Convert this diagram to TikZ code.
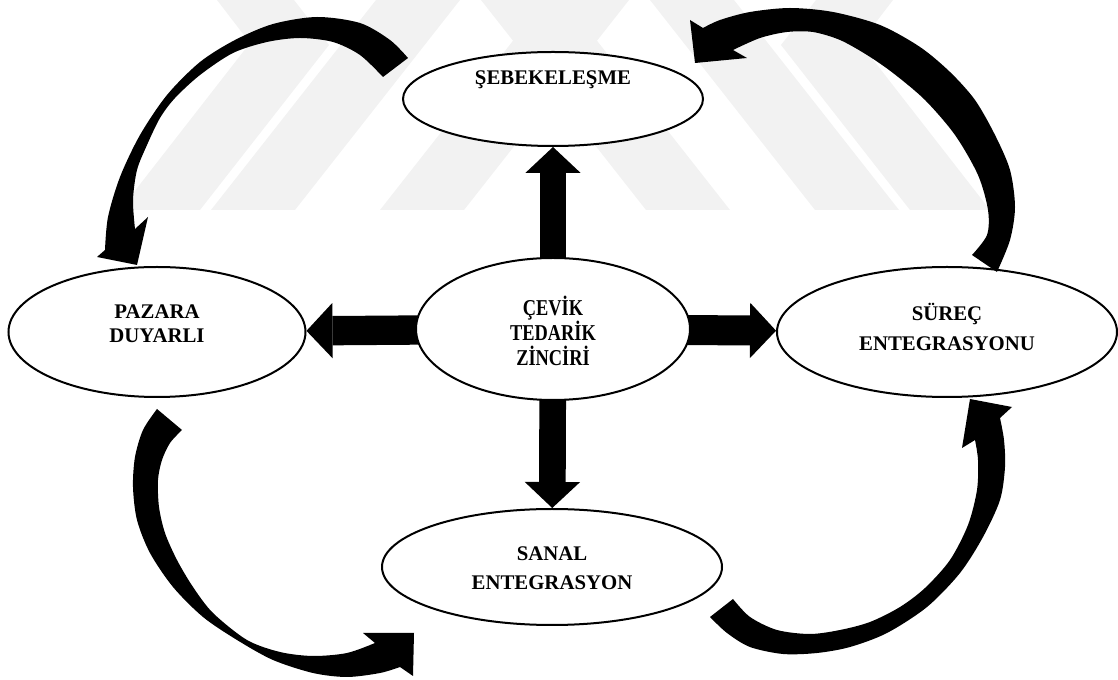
\documentclass[tikz,border=0pt]{standalone}
\usepackage{fontspec}
\setmainfont{Liberation Serif}
\newfontfamily\narrowfont[FakeStretch=0.81]{Liberation Serif}
\usetikzlibrary{shapes.geometric,arrows.meta,backgrounds}

\begin{document}
\begin{tikzpicture}[x=0.75pt,y=-0.75pt]
\tikzstyle{oval}=[ellipse,draw=black,line width=1.5pt,fill=white,inner sep=0pt]
\tikzstyle{lbl}=[align=center,inner sep=0pt,font=\bfseries\fontsize{15.6}{18}\selectfont]
\tikzstyle{wm}=[fill=black!5]
\tikzstyle{curved}=[fill=black]
\tikzset{blockarrow/.style={line width=#1,shorten <=-8pt,
  -{Triangle[width=41.5pt,length=19.5pt,line width=0pt]}}}
\useasboundingbox (0,0) rectangle (1118,680);
% ovals
\node[oval,minimum width=225pt,minimum height=70.5pt] (seb) at (553,99) {};
\node[oval,minimum width=205.5pt,minimum height=106.5pt] (cev) at (553,329) {};
\node[oval,minimum width=222.75pt,minimum height=97.5pt] (paz) at (157,332) {};
\node[oval,minimum width=255pt,minimum height=97.5pt] (sur) at (947,332) {};
\node[oval,minimum width=255pt,minimum height=87pt] (san) at (552,567) {};
% texts
\node[lbl] (sebt) at (553,80) {ŞEBEKELEŞME};
\node[lbl] (pazt) at (157,324) {PAZARA\\DUYARLI};
\node[lbl,font=\bfseries\fontsize{15.6}{22.5}\selectfont] (surt) at (947,327) {SÜREÇ\\ENTEGRASYONU};
\node[lbl,font=\bfseries\fontsize{15.6}{21.75}\selectfont] (sant) at (552,568) {SANAL\\ENTEGRASYON};
\node[lbl,font=\narrowfont\bfseries\fontsize{17}{18.5}\selectfont] (cevt) at (553,331) {ÇEVİK\\TEDARİK\\ZİNCİRİ};
\begin{scope}[on background layer]
% watermark
\fill[wm] (217,0) -- (294,0) -- (329,45) -- (200,210) -- (120,210) -- (250,43) -- cycle;
\fill[wm] (376,0) -- (460,0) -- (295,210) -- (211,210) -- cycle;
\fill[wm] (545,0) -- (629,0) -- (464,210) -- (380,210) -- cycle;
\fill[wm] (893,0) -- (816,0) -- (781,45) -- (910,210) -- (990,210) -- (860,43) -- cycle;
\fill[wm] (734,0) -- (650,0) -- (815,210) -- (899,210) -- cycle;
\fill[wm] (565,0) -- (481,0) -- (646,210) -- (730,210) -- cycle;
% straight arrows
\draw[blockarrow=19.5pt] (cev) -- (seb);
\draw[blockarrow=20pt] (cev) -- (san);
\draw[blockarrow=22pt] (cev) -- (paz);
\draw[blockarrow=22.5pt] (cev) -- (sur);
\end{scope}
% curved arrows
\fill[curved] plot[smooth] coordinates {(408,58) (390,40) (360,23) (317,17) (273,24) (235,40) (200,62) (167,95) (140,135) (120,177) (108,217) (105,250)}
  -- (97,257) -- (137,265) -- (148,217)
  -- plot[smooth] coordinates {(135,229) (133,200) (137,170) (147,145) (160,118) (175,98) (200,75) (233,53) (267,42) (300,38) (333,42) (360,55) (383,77)} -- cycle;
\fill[curved] plot[smooth] coordinates {(997,272) (1010,240) (1015,207) (1010,170) (995,135) (975,100) (950,72) (920,47) (880,25) (833,12) (790,8) (750,12) (720,20) (703,28)}
  -- (690,20) -- (695,63) -- (747,58)
  -- plot[smooth] coordinates {(733,50) (760,38) (787,32) (813,32) (840,40) (867,55) (893,73) (925,100) (955,135) (978,175) (988,210) (987,235) (972,255)} -- cycle;
\fill[curved] plot[smooth] coordinates {(157,409) (143,430) (135,457) (133,487) (137,520) (150,553) (173,587) (203,617) (237,640) (273,660) (313,673) (347,677) (380,673) (400,667)}
  -- (413,676) -- (414,633) -- (363,633)
  -- plot[smooth] coordinates {(375,643) (347,653) (313,656) (280,652) (247,640) (213,613) (193,587) (177,560) (165,533) (159,507) (158,480) (162,460) (170,443) (182,430)} -- cycle;
\fill[curved] plot[smooth] coordinates {(710,617) (727,633) (750,647) (783,654) (817,653) (850,647) (887,633) (927,607) (960,573) (983,537) (1000,500) (1005,467) (1004,440) (1000,418)}
  -- (1012,407) -- (970,399) -- (962,448)
  -- plot[smooth] coordinates {(975,440) (978,460) (977,490) (968,525) (950,560) (925,588) (900,607) (870,622) (840,630) (810,634) (777,630) (750,617) (733,599)} -- cycle;
\end{tikzpicture}
\end{document}
